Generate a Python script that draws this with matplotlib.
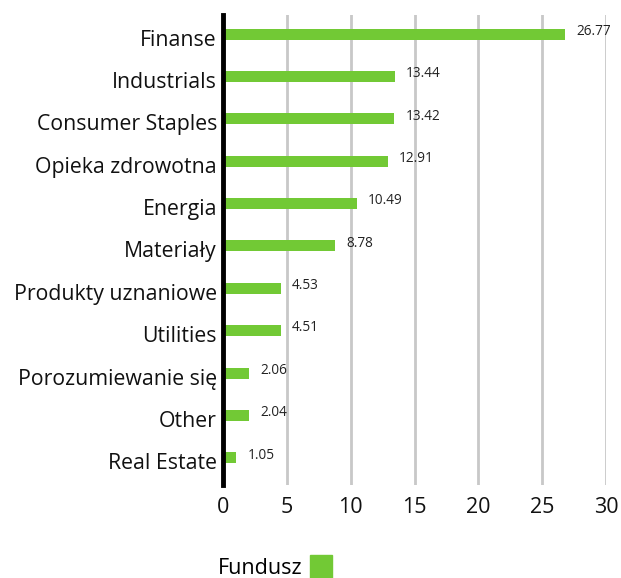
#! /usr/bin/env python3

"""Sector allocation bar chart"""

import matplotlib
matplotlib.use("Agg")
import matplotlib.pyplot as plt
import matplotlib.transforms as mtransforms
from matplotlib.patches import Patch

# data, top to bottom as in the chart
sectors = ["Finanse", "Industrials", "Consumer Staples", "Opieka zdrowotna",
           "Energia", "Materiały", "Produkty uznaniowe", "Utilities",
           "Porozumiewanie się", "Other", "Real Estate"]
fund = [26.77, 13.44, 13.42, 12.91, 10.49, 8.78, 4.53, 4.51, 2.06, 2.04, 1.05]
ticks = [0, 5, 10, 15, 20, 25, 30]

green = "#72c935"

plt.rcParams["font.family"] = ["Open Sans", "DejaVu Sans"]

fig = plt.figure(figsize=(6.21, 5.78), dpi=100)
ax = fig.add_axes([0.359, 0.161, 0.617, 0.813])

n = len(sectors)
ypos = list(range(n - 1, -1, -1))
ax.barh(ypos, fund, height=0.26, color=green, zorder=3)

# value labels to the right of the bars
for y, v in zip(ypos, fund):
    ax.annotate(f"{v:.2f}", (v, y), xytext=(8, 2), textcoords="offset points",
                va="center", ha="left", fontsize=9.8, color="#222222")

# category labels, drawn by hand so they can sit a bit below the bar centre
ax.set_yticks(ypos)
ax.set_yticklabels([])
shift = mtransforms.ScaledTranslation(-6 / 100, -6 / 100, fig.dpi_scale_trans)
for y, name in zip(ypos, sectors):
    ax.text(0, y, name, transform=ax.get_yaxis_transform() + shift,
            ha="right", va="center", fontsize=15.3, color="#111111")

ax.set_xticks(ticks)
ax.set_xticklabels([str(t) for t in ticks], fontsize=15.5, color="#111111")
ax.set_xlim(0, 30)
ax.set_ylim(-0.64, n - 1 + 0.45)

# gridlines and spines
ax.grid(axis="x", color="#c8c8c8", linewidth=2, zorder=0)
ax.tick_params(axis="y", length=0)
ax.tick_params(axis="x", length=0, pad=9)
for s in ["top", "right", "bottom"]:
    ax.spines[s].set_visible(False)
ax.spines["left"].set_linewidth(3.5)
ax.spines["left"].set_color("black")
ax.spines["left"].set_zorder(4)

# legend at the bottom, label before the square
fig.legend(handles=[Patch(color=green, label="Fundusz")], loc="lower left",
           bbox_to_anchor=(0.32, -0.035), frameon=False, markerfirst=False,
           fontsize=15.5, handlelength=1.0, handleheight=1.3, handletextpad=0.35)

fig.savefig("out.png", dpi=100)
